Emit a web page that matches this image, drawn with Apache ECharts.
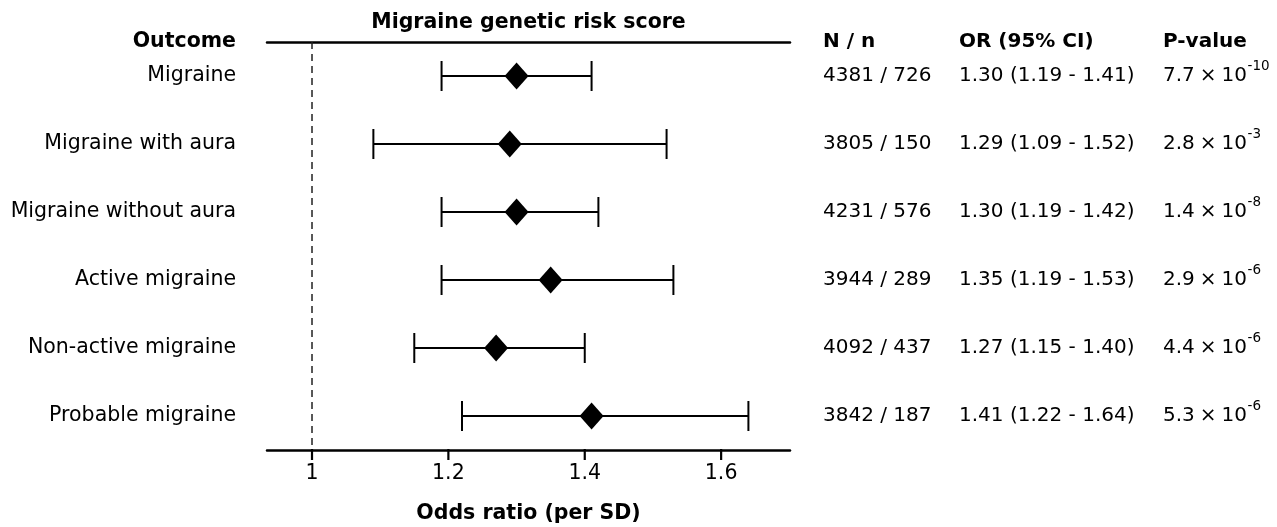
<!DOCTYPE html>
<html><head><meta charset="utf-8">
<script src="https://cdn.jsdelivr.net/npm/echarts@6/dist/echarts.min.js"></script>
<style>html,body{margin:0;padding:0;background:#fff}#c{width:1277px;height:527px}</style>
</head><body><div id="c"></div>
<script>
const outcomes = ['Migraine','Migraine with aura','Migraine without aura','Active migraine','Non-active migraine','Probable migraine'];
const orValues = [1.30, 1.29, 1.30, 1.35, 1.27, 1.41];
const ciLow = [1.19, 1.09, 1.19, 1.19, 1.15, 1.22];
const ciHigh = [1.41, 1.52, 1.42, 1.53, 1.40, 1.64];
const nTotal = [4381, 3805, 4231, 3944, 4092, 3842];
const nCases = [726, 150, 576, 289, 437, 187];
const pMantissa = ['7.7', '2.8', '1.4', '2.9', '4.4', '5.3'];
const pExponent = ['-10', '-3', '-8', '-6', '-6', '-6'];
const xTicks = [1, 1.2, 1.4, 1.6];
const nullEffect = 1;
const headers = ['Outcome', 'N / n', 'OR (95% CI)', 'P-value'];

const FONT = 'DejaVu Sans';
const FS = 20.5;   // outcome labels, titles
const FST = 20;    // table columns
const colX = [823, 959, 1163]; // layout: left edges of the text columns
const measureCtx = document.createElement('canvas').getContext('2d');
function textWidth(s, size) { measureCtx.font = size + 'px "' + FONT + '"'; return measureCtx.measureText(s).width; }

const forestData = outcomes.map((o, i) => [orValues[i], ciLow[i], ciHigh[i], i]);
const tableData = outcomes.map((o, i) => [orValues[i], i]);
const tickData = xTicks.map(v => [v, 0]);

const boldFont = 'bold ' + FST + 'px "' + FONT + '"';
const chart = echarts.init(document.getElementById('c'), null, {renderer: 'canvas'});
chart.setOption({
  animation: false,
  backgroundColor: '#fff',
  textStyle: {fontFamily: FONT, color: '#000'},
  grid: {left: 267, right: 487, top: 42, bottom: 77, containLabel: false, outerBoundsMode: 'none'},
  xAxis: [{
    type: 'value', min: 0.934, max: 1.701, position: 'bottom',
    axisLine: {show: true, lineStyle: {color: '#000', width: 2.5}},
    axisTick: {show: false},
    axisLabel: {customValues: xTicks, fontSize: FS, color: '#000', fontFamily: FONT, margin: 13, formatter: v => String(+(+v).toFixed(2))},
    splitLine: {show: false},
    name: 'Odds ratio (per SD)', nameLocation: 'middle', nameGap: 53,
    nameTextStyle: {fontSize: FS, fontWeight: 'bold', color: '#000', fontFamily: FONT}
  }, {
    type: 'value', min: 0.934, max: 1.701, position: 'top',
    axisLine: {show: true, lineStyle: {color: '#000', width: 2.5}},
    axisTick: {show: false}, axisLabel: {show: false}, splitLine: {show: false},
    name: 'Migraine genetic risk score', nameLocation: 'middle', nameGap: 9,
    nameTextStyle: {fontSize: FS, fontWeight: 'bold', color: '#000', fontFamily: FONT}
  }],
  yAxis: {
    type: 'category', data: outcomes, inverse: true,
    axisLine: {show: false}, axisTick: {show: false}, splitLine: {show: false},
    axisLabel: {fontSize: FS, color: '#000', fontFamily: FONT, margin: 31}
  },
  graphic: [
    {type: 'text', x: 236, y: 42, style: {text: headers[0], fill: '#000', font: 'bold ' + FS + 'px "' + FONT + '"', align: 'right', verticalAlign: 'middle'}},
    {type: 'text', x: colX[0], y: 42, style: {text: headers[1], fill: '#000', font: boldFont, align: 'left', verticalAlign: 'middle'}},
    {type: 'text', x: colX[1], y: 42, style: {text: headers[2], fill: '#000', font: boldFont, align: 'left', verticalAlign: 'middle'}},
    {type: 'text', x: colX[2], y: 42, style: {text: headers[3], fill: '#000', font: boldFont, align: 'left', verticalAlign: 'middle'}}
  ],
  series: [{
    type: 'custom',
    clip: false,
    z: 5,
    data: [[nullEffect, 0]],
    renderItem: function (params, api) {
      const cs = params.coordSys;
      const x = api.coord([api.value(0), 0])[0];
      return {type: 'line', shape: {x1: x, y1: cs.y, x2: x, y2: cs.y + cs.height},
        style: {stroke: '#222', lineWidth: 1.5, lineDash: [7, 5]}};
    }
  }, {
    type: 'custom',
    clip: false,
    z: 10,
    data: tickData,
    renderItem: function (params, api) {
      const cs = params.coordSys;
      const x = api.coord([api.value(0), 0])[0];
      const y0 = cs.y + cs.height - 1;
      return {type: 'line', z2: 10, shape: {x1: x, y1: y0, x2: x, y2: y0 + 11},
        style: {stroke: '#000', lineWidth: 2.2}};
    }
  }, {
    type: 'custom',
    clip: false,
    data: forestData,
    renderItem: function (params, api) {
      const idx = api.value(3);
      const c = api.coord([api.value(0), idx]);
      const lo = api.coord([api.value(1), idx]);
      const hi = api.coord([api.value(2), idx]);
      const capH = 15, dw = 12, dh = 13.5;
      const ls = {stroke: '#000', lineWidth: 2};
      return {type: 'group', children: [
        {type: 'line', shape: {x1: lo[0], y1: c[1], x2: hi[0], y2: c[1]}, style: ls},
        {type: 'line', shape: {x1: lo[0], y1: c[1] - capH, x2: lo[0], y2: c[1] + capH}, style: ls},
        {type: 'line', shape: {x1: hi[0], y1: c[1] - capH, x2: hi[0], y2: c[1] + capH}, style: ls},
        {type: 'polygon', shape: {points: [[c[0], c[1] - dh], [c[0] + dw, c[1]], [c[0], c[1] + dh], [c[0] - dw, c[1]]]}, style: {fill: '#000'}}
      ]};
    }
  }, {
    type: 'custom',
    clip: false,
    data: tableData,
    renderItem: function (params, api) {
      const i = api.value(1);
      const y = api.coord([1, i])[1];
      const font = FST + 'px "' + FONT + '"';
      const base = pMantissa[i] + '\u2005\u00d7\u200510';
      const bw = textWidth(base, FST);
      return {type: 'group', children: [
        {type: 'text', x: colX[0], y: y, style: {text: nTotal[i] + ' / ' + nCases[i], font: font, fill: '#000', align: 'left', verticalAlign: 'middle'}},
        {type: 'text', x: colX[1], y: y, style: {text: orValues[i].toFixed(2) + ' (' + ciLow[i].toFixed(2) + ' - ' + ciHigh[i].toFixed(2) + ')', font: font, fill: '#000', align: 'left', verticalAlign: 'middle'}},
        {type: 'text', x: colX[2], y: y, style: {text: base, font: font, fill: '#000', align: 'left', verticalAlign: 'middle'}},
        {type: 'text', x: colX[2] + bw + 0.5, y: y - 10, style: {text: pExponent[i], font: '13.5px "' + FONT + '"', fill: '#000', align: 'left', verticalAlign: 'middle'}}
      ]};
    }
  }]
});
</script>
</body></html>
